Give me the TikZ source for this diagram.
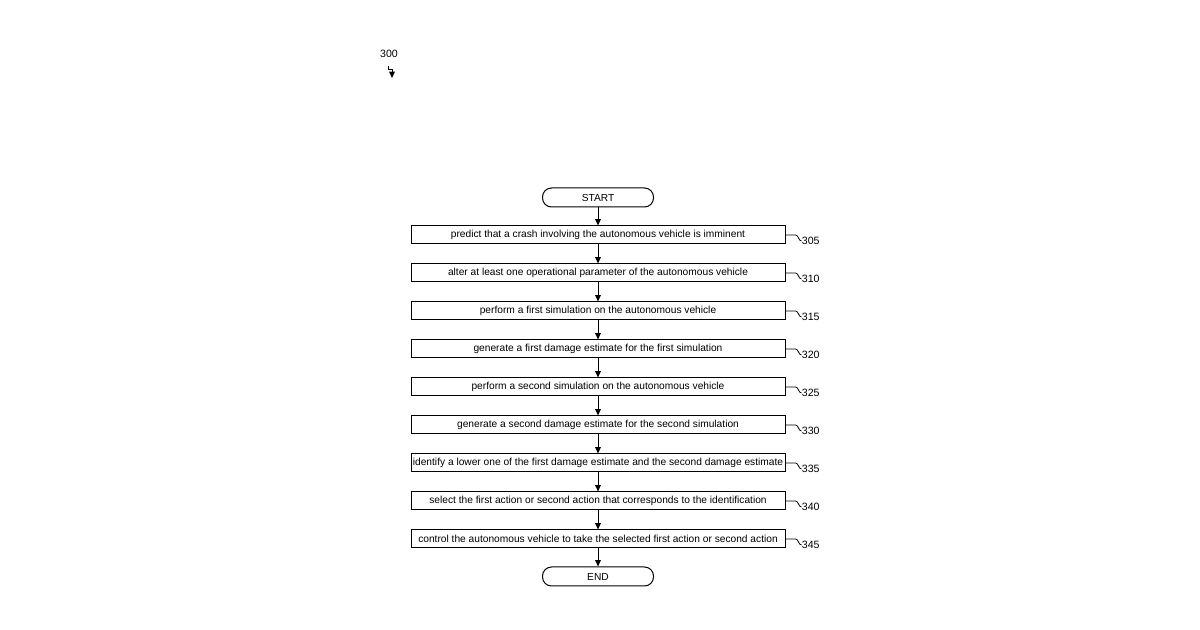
\documentclass[tikz,border=0pt]{standalone}
\usepackage{fontspec}
\setmainfont{Liberation Sans}
\usetikzlibrary{positioning,arrows.meta}
\begin{document}
\begin{tikzpicture}[x=0.5pt,y=-0.5pt,font=\fontsize{5.1}{6}\selectfont,
  procbox/.style={draw,line width=0.5pt,minimum width=187pt,minimum height=9pt,inner sep=0pt},
  term/.style={draw,line width=0.5pt,rounded corners=4.5pt,minimum width=55.5pt,minimum height=9.5pt,inner sep=0pt},
  flow/.style={-{Triangle[length=3.2pt,width=2.8pt]},line width=0.5pt},
  node distance=9.5pt]
\useasboundingbox (0,0) rectangle (1200,630);
\node[term] (start) at (598,197.5) {START};
\node[procbox,below=9pt of start] (s305) {predict that a crash involving the autonomous vehicle is imminent};
\node[procbox,below=of s305] (s310) {alter at least one operational parameter of the autonomous vehicle};
\node[procbox,below=of s310] (s315) {perform a first simulation on the autonomous vehicle};
\node[procbox,below=of s315] (s320) {generate a first damage estimate for the first simulation};
\node[procbox,below=of s320] (s325) {perform a second simulation on the autonomous vehicle};
\node[procbox,below=of s325] (s330) {generate a second damage estimate for the second simulation};
\node[procbox,below=of s330] (s335) {identify a lower one of the first damage estimate and the second damage estimate};
\node[procbox,below=of s335] (s340) {select the first action or second action that corresponds to the identification};
\node[procbox,below=of s340] (s345) {control the autonomous vehicle to take the selected first action or second action};
\node[term,below=9pt of s345] (end) {END};
% arrows
\draw[flow] (start) -- (s305);
\foreach \a/\b in {305/310,310/315,315/320,320/325,325/330,330/335,335/340,340/345}
  \draw[flow] (s\a) -- (s\b);
\draw[flow] (s345) -- (end);
% reference labels
\foreach \n in {305,310,315,320,325,330,335,340,345}{
  \node[anchor=west,inner sep=0pt,font=\fontsize{5.3}{6}\selectfont] (l\n) at ([xshift=8pt,yshift=-3pt]s\n.east) {\n};
  \draw[line width=0.4pt] (s\n.east) -- ++(5pt,0) .. controls +(1.5pt,0) and +(-1.5pt,0) .. (l\n.west);
}
\node[font=\fontsize{5.3}{6}\selectfont] (fig) at (389,54) {300};
\coordinate (kink) at (388,66);
\draw[line width=0.4pt] (kink) -- ++(0,3) -- ++(4,0) -- ++(0,2);
\draw[flow] (392,70) -- (392,78);
\end{tikzpicture}
\end{document}
